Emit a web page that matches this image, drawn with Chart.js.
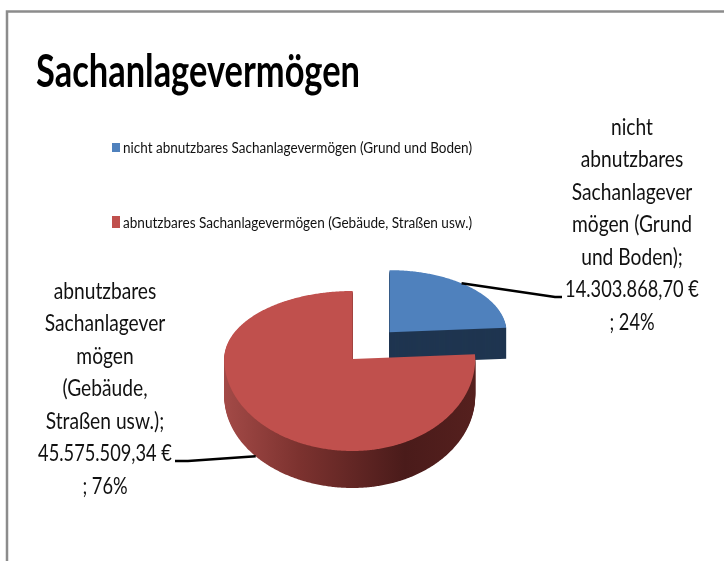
<!DOCTYPE html>
<html><head><meta charset="utf-8">
<style>html,body{margin:0;padding:0;background:#fff}canvas{display:block}</style>
<script src="https://cdn.jsdelivr.net/npm/chart.js@4"></script>
</head><body>
<canvas id="c" width="724" height="561"></canvas>
<script>
const titleText = "Sachanlagevermögen";
const categories = ["nicht abnutzbares Sachanlagevermögen (Grund und Boden)", "abnutzbares Sachanlagevermögen (Gebäude, Straßen usw.)"];
const values = [14303868.70, 45575509.34];
const colors = ["#4f81bd", "#c0504d"];
const labelLinesBlue = ["nicht", "abnutzbares", "Sachanlagever", "mögen (Grund", "und Boden);", "14.303.868,70 €", "; 24%"];
const labelLinesRed = ["abnutzbares", "Sachanlagever", "mögen", "(Gebäude,", "Straßen usw.);", "45.575.509,34 €", "; 76%"];

const FONT = "Lato, 'Open Sans', sans-serif";
const view = [
  {left:117, right:117, top:62, bottom:62, depth:31, offsetX:1, offsetY:0.68, side:"#1f3550"},
  {left:128.5, right:122.5, top:68, bottom:92, depth:37, offsetX:1, offsetY:0.68, side:null}
];
const labelStyle = [
  {lines:labelLinesBlue, cx:632, y0:127, leadAngle:38, onSide:false, elbow:[[555,297],[562,297]]},
  {lines:labelLinesRed, cx:105, y0:291, leadAngle:229, onSide:true, elbow:[[188,461],[175,461]]}
];

function project(el, v, t) {
  const mid = (el.startAngle + el.endAngle) / 2;
  const off = el.options.offset || 0;
  const ax = el.x + Math.cos(mid) * off * v.offsetX;
  const ay = el.y + Math.sin(mid) * off * v.offsetY;
  if (t === null) return [ax, ay];
  const s = Math.sin(t), c = Math.cos(t);
  return [ax + s * (s > 0 ? v.right : v.left), ay - c * (c > 0 ? v.top : v.bottom)];
}
function slicePath(ctx, el, v, dy) {
  const a0 = el.startAngle + Math.PI / 2, a1 = el.endAngle + Math.PI / 2;
  const p = project(el, v, null);
  ctx.beginPath();
  ctx.moveTo(p[0], p[1] + dy);
  const n = Math.ceil((a1 - a0) / 0.01);
  for (let i = 0; i <= n; i++) {
    const q = project(el, v, a0 + (a1 - a0) * i / n);
    ctx.lineTo(q[0], q[1] + dy);
  }
  ctx.closePath();
}
function squeezed(ctx, text, x, y, sx, align) {
  ctx.save();
  ctx.translate(x, y);
  ctx.scale(sx, 1);
  ctx.textAlign = align;
  ctx.textBaseline = "middle";
  ctx.fillText(text, 0, 0);
  ctx.restore();
}
const pie3d = {
  id: "pie3d",
  beforeDraw(chart) {
    const ctx = chart.ctx;
    ctx.save();
    ctx.fillStyle = "#fff";
    ctx.fillRect(0, 0, 724, 561);
    ctx.strokeStyle = "#8c8c8c";
    ctx.lineWidth = 2.5;
    ctx.beginPath();
    ctx.moveTo(7, 561); ctx.lineTo(7, 11.5); ctx.lineTo(724, 11.5);
    ctx.stroke();
    ctx.restore();
  },
  beforeDatasetsDraw(chart) {
    const ctx = chart.ctx;
    const meta = chart.getDatasetMeta(0);
    ctx.save();
    meta.data.forEach((el, i) => {
      const v = view[i];
      let sideFill = v.side;
      if (!sideFill) {
        const g = ctx.createLinearGradient(224, 0, 475, 0);
        g.addColorStop(0, "#a34a47");
        g.addColorStop(0.3, "#7c322f");
        g.addColorStop(0.72, "#4a1b1a");
        g.addColorStop(1, "#55201e");
        sideFill = g;
      }
      ctx.fillStyle = sideFill;
      for (let d = v.depth; d >= 1; d--) { slicePath(ctx, el, v, d); ctx.fill(); }
      ctx.fillStyle = colors[i];
      slicePath(ctx, el, v, 0); ctx.fill();
    });
    ctx.restore();
    return false;
  },
  afterDraw(chart) {
    const ctx = chart.ctx;
    const meta = chart.getDatasetMeta(0);
    ctx.save();
    // title
    ctx.fillStyle = "#000";
    ctx.font = "bold 46px " + FONT;
    ctx.textAlign = "left";
    ctx.textBaseline = "alphabetic";
    ctx.fillText(titleText, 36, 87, 324);
    // legend
    const legendY = [148, 223];
    categories.forEach((c, i) => {
      ctx.fillStyle = colors[i];
      ctx.fillRect(112, legendY[i] - (i ? 7 : 5), 8, i ? 12 : 9);
      ctx.fillStyle = "#111";
      ctx.font = "15.5px " + FONT;
      ctx.textAlign = "left";
      ctx.textBaseline = "middle";
      ctx.fillText(c, 123, legendY[i], 349);
    });
    // data labels and leaders
    labelStyle.forEach((l, i) => {
      const el = meta.data[i], v = view[i];
      const p = project(el, v, l.leadAngle * Math.PI / 180);
      ctx.strokeStyle = "#000";
      ctx.lineWidth = 2.5;
      ctx.beginPath();
      ctx.moveTo(p[0], p[1] + (l.onSide ? v.depth : 0));
      l.elbow.forEach(q => ctx.lineTo(q[0], q[1]));
      ctx.stroke();
      ctx.fillStyle = "#111";
      ctx.font = "24px " + FONT;
      l.lines.forEach((t, k) => squeezed(ctx, t, l.cx, l.y0 + k * 32.5, /\d/.test(t) ? 0.76 : 0.8, "center"));
    });
    ctx.restore();
  }
};
new Chart(document.getElementById("c"), {
  type: "pie",
  data: { labels: categories, datasets: [{ data: values, backgroundColor: colors, borderWidth: 0, offset: [54, 0] }] },
  options: {
    responsive: false,
    animation: false,
    radius: 125,
    layout: { padding: { left: 0, right: 18.6, top: 157, bottom: 0 } },
    plugins: { legend: { display: false }, title: { display: false }, tooltip: { enabled: false } }
  },
  plugins: [pie3d]
});
</script>
</body></html>
